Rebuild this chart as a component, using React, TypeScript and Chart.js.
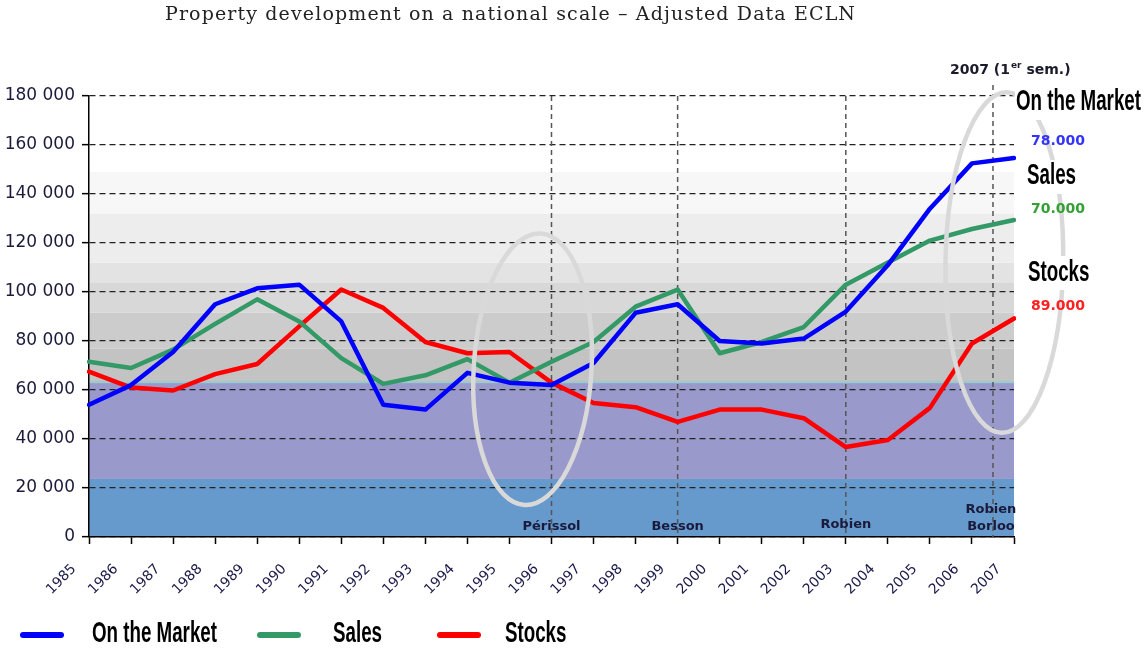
import { useEffect, useRef } from 'react';
import { Chart, registerables } from 'chart.js';

Chart.register(...registerables);

const years = ['1985', '1986', '1987', '1988', '1989', '1990', '1991', '1992', '1993', '1994', '1995', '1996', '1997', '1998', '1999', '2000', '2001', '2002', '2003', '2004', '2005', '2006', '2007'];
const onTheMarket = [54000, 62000, 75500, 95000, 101500, 103000, 88000, 54000, 52000, 67000, 63000, 62000, 71000, 91500, 95000, 80000, 79000, 81000, 92000, 111000, 134000, 152500, 154700];
const sales = [71500, 69000, 76500, 87000, 97000, 88000, 73000, 62500, 66000, 72600, 63000, 71500, 79600, 94000, 101000, 75000, 79600, 85700, 103000, 112000, 121000, 125700, 129400];
const stocks = [67500, 61000, 59800, 66500, 70600, 86000, 101000, 93500, 79600, 75000, 75500, 63000, 54700, 53000, 47000, 52000, 52000, 48500, 36700, 39600, 52700, 79000, 89200];

const yTickValues = [0, 20000, 40000, 60000, 80000, 100000, 120000, 140000, 160000, 180000];
const bandEdges = [0, 23700, 63000, 77000, 91500, 103700, 112000, 132000, 149000];
const eventIndex = [11, 14, 18, 21.5];
const eventLabels = [['Périssol'], ['Besson'], ['Robien'], ['Robien', 'Borloo']];
const seriesNames = ['On the Market', 'Sales', 'Stocks'];
const latestLabels = ['78.000', '70.000', '89.000'];
const titleText = 'Property development on a national scale – Adjusted Data ECLN';

const BLUE = '#0000ff';
const GREEN = '#339966';
const RED = '#ff0000';

const NARROW_FONT = 'bold 30px "Liberation Sans"';

const fmt = (v: number) => String(v).replace(/\B(?=(\d{3})+(?!\d))/g, ' ');

function narrowText(ctx: CanvasRenderingContext2D, text: string, x: number, y: number, sx: number) {
  ctx.save();
  ctx.font = NARROW_FONT;
  ctx.textAlign = 'left';
  ctx.textBaseline = 'middle';
  ctx.fillStyle = '#000';
  ctx.translate(x, y);
  ctx.scale(sx, 1);
  ctx.fillText(text, 0, 0);
  ctx.restore();
}

function narrowScale(ctx: CanvasRenderingContext2D) {
  ctx.save();
  ctx.font = NARROW_FONT;
  const w = ctx.measureText(seriesNames[0]).width;
  ctx.restore();
  return 125 / w;
}

const decorPlugin = {
  id: 'decor',
  beforeDraw(chart: any) {
    const { ctx, chartArea } = chart;
    const y = chart.scales.y;
    const bandColors = ['#6699cc', '#9999cc', '#c3c3c3', '#cccccc', '#d8d8d8', '#e3e3e3', '#ededed', '#f6f6f6'];
    ctx.save();
    for (let i = 0; i + 1 < bandEdges.length; i++) {
      const y0 = y.getPixelForValue(bandEdges[i]);
      const y1 = y.getPixelForValue(bandEdges[i + 1]);
      ctx.fillStyle = bandColors[i];
      ctx.fillRect(chartArea.left, y1, chartArea.right - chartArea.left, y0 - y1);
    }
    ctx.fillStyle = '#f7f7f7';
    const yTop = y.getPixelForValue(bandEdges[bandEdges.length - 1]);
    ctx.fillRect(chartArea.left, yTop, chartArea.right - chartArea.left, y.getPixelForValue(132000) - yTop);
    ctx.fillStyle = '#99cccc';
    const yt = y.getPixelForValue(63000);
    ctx.fillRect(chartArea.left, yt - 1.5, chartArea.right - chartArea.left, 2);
    ctx.restore();

    // title
    ctx.save();
    ctx.font = '19px "DejaVu Serif"';
    ctx.fillStyle = '#222';
    ctx.textAlign = 'left';
    ctx.textBaseline = 'middle';
    const w0 = ctx.measureText(titleText).width;
    const ls = (690 - w0) / (titleText.length - 1);
    (ctx as any).letterSpacing = ls + 'px';
    ctx.fillText(titleText, 165, 15);
    ctx.restore();
  },
  beforeDatasetsDraw(chart: any) {
    const { ctx, chartArea } = chart;
    const x = chart.scales.x;
    ctx.save();
    ctx.strokeStyle = '#555';
    ctx.lineWidth = 1.5;
    ctx.setLineDash([5, 4]);
    eventIndex.forEach((idx, k) => {
      const px = x.getPixelForValue(idx);
      ctx.beginPath();
      ctx.moveTo(px, k === 3 ? chartArea.top - 11 : chartArea.top);
      ctx.lineTo(px, chartArea.bottom);
      ctx.stroke();
    });
    ctx.setLineDash([]);
    ctx.fillStyle = '#1a1a3a';
    ctx.font = 'bold 13px "DejaVu Sans"';
    ctx.textAlign = 'center';
    ctx.textBaseline = 'middle';
    eventLabels.forEach((lines, k) => {
      const px = x.getPixelForValue(eventIndex[k]);
      const base = k === 2 ? chartArea.bottom - 12 : chartArea.bottom - 10;
      lines.forEach((t, j) => {
        ctx.fillText(t, k === 3 ? px - 2 : px, base - (lines.length - 1 - j) * 17);
      });
    });
    ctx.restore();
  },
  afterDatasetsDraw(chart: any) {
    const { ctx, chartArea } = chart;
    const x = chart.scales.x;
    const y = chart.scales.y;
    const step = x.getPixelForValue(1) - x.getPixelForValue(0);
    const vpx = (v: number) => Math.abs(y.getPixelForValue(0) - y.getPixelForValue(v));
    ctx.save();
    ctx.strokeStyle = '#d9d9d9';
    ctx.lineWidth = 4.5;
    ctx.beginPath();
    ctx.ellipse(x.getPixelForValue(10.55), y.getPixelForValue(68500), step * 1.4, vpx(55500), 0.06, 0, Math.PI * 2);
    ctx.stroke();
    ctx.beginPath();
    ctx.ellipse(x.getPixelForValue(21.77), y.getPixelForValue(112000), step * 1.4, vpx(69500), 0.015, 0, Math.PI * 2);
    ctx.stroke();
    ctx.restore();

    const sx = narrowScale(ctx);
    const rx = chartArea.right;
    // white boxes behind big labels
    ctx.save();
    ctx.fillStyle = '#fff';
    ctx.fillRect(rx + 1, 84, 131, 36);
    ctx.fillRect(rx + 12, 160, 70, 34);
    ctx.fillRect(rx + 12, 256, 75, 34);
    ctx.restore();
    narrowText(ctx, seriesNames[0], rx + 2, 102, sx);
    narrowText(ctx, seriesNames[1], rx + 13, 176, sx);
    narrowText(ctx, seriesNames[2], rx + 14, 273, sx);

    ctx.save();
    ctx.font = 'bold 14px "DejaVu Sans"';
    ctx.textAlign = 'left';
    ctx.textBaseline = 'middle';
    ctx.fillStyle = '#3333ff';
    ctx.fillText(latestLabels[0], rx + 17, 141);
    ctx.fillStyle = '#33a033';
    ctx.fillText(latestLabels[1], rx + 17, 209);
    ctx.fillStyle = '#ff2020';
    ctx.fillText(latestLabels[2], rx + 17, 306);

    // 2007 (1er sem.)
    ctx.fillStyle = '#1a1a2a';
    let tx = 950;
    const ty = 70;
    const p1 = '2007 (1';
    ctx.fillText(p1, tx, ty);
    tx += ctx.measureText(p1).width;
    ctx.font = 'bold 9px "DejaVu Sans"';
    ctx.fillText('er', tx + 1, ty - 4);
    tx += ctx.measureText('er').width + 1;
    ctx.font = 'bold 14px "DejaVu Sans"';
    ctx.fillText(' sem.)', tx, ty);
    ctx.restore();

    // legend
    const colors = [BLUE, GREEN, RED];
    const lineX = [20, 257, 437];
    const textX = [92, 333, 505];
    ctx.save();
    ctx.lineWidth = 6;
    ctx.lineCap = 'round';
    colors.forEach((c, i) => {
      ctx.strokeStyle = c;
      ctx.beginPath();
      ctx.moveTo(lineX[i] + 3, 635);
      ctx.lineTo(lineX[i] + 41, 635);
      ctx.stroke();
      narrowText(ctx, seriesNames[i], textX[i], 634, sx);
    });
    ctx.restore();
  },
};

export default function App() {
  const ref = useRef<HTMLCanvasElement | null>(null);
  useEffect(() => {
    document.body.style.margin = '0';
    const canvas = ref.current;
    if (!canvas) return;
    const chart = new Chart(canvas, {
      type: 'line',
      data: {
        labels: years,
        datasets: [
          { label: seriesNames[0], data: onTheMarket, borderColor: BLUE, backgroundColor: BLUE },
          { label: seriesNames[1], data: sales, borderColor: GREEN, backgroundColor: GREEN },
          { label: seriesNames[2], data: stocks, borderColor: RED, backgroundColor: RED },
        ],
      },
      options: {
        responsive: false,
        animation: false,
        events: [],
        layout: { padding: { top: 96, right: 131, bottom: 0, left: 0 } },
        elements: {
          point: { radius: 0 },
          line: { borderWidth: 4.5, tension: 0, borderJoinStyle: 'round', borderCapStyle: 'round' },
        },
        plugins: {
          legend: { display: false },
          title: { display: false },
          tooltip: { enabled: false },
        },
        scales: {
          x: {
            type: 'category',
            offset: false,
            grid: { drawOnChartArea: false, drawTicks: true, tickLength: 7, tickColor: '#000', tickWidth: 1.5 },
            border: { color: '#000', width: 1.5 },
            ticks: {
              autoSkip: false,
              maxRotation: 45,
              minRotation: 45,
              labelOffset: -15,
              padding: 17,
              color: '#1a1a4a',
              font: { family: 'DejaVu Sans', size: 14 },
            },
            afterFit: (s: any) => { s.height = 112; },
          },
          y: {
            min: 0,
            max: 180000,
            afterBuildTicks: (s: any) => { s.ticks = yTickValues.map((v) => ({ value: v })); },
            ticks: {
              padding: 7,
              color: '#1a1a3a',
              font: { family: 'DejaVu Sans', size: 17 },
              callback: (v: any) => fmt(Number(v)),
            },
            grid: { color: '#222', lineWidth: 1.3, tickLength: 7, tickColor: '#000', tickWidth: 1.5, tickBorderDash: [] },
            border: { color: '#000', width: 1.5, dash: [6, 4] },
            afterFit: (s: any) => { s.width = 89; },
          },
        },
      },
      plugins: [decorPlugin],
    } as any);
    return () => chart.destroy();
  }, []);
  return <canvas ref={ref} width={1145} height={649} style={{ display: 'block' }} />;
}
